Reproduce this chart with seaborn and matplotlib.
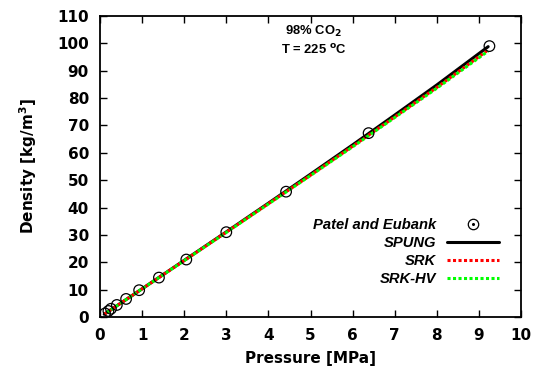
import matplotlib
matplotlib.use("Agg")
import matplotlib.pyplot as plt
import seaborn as sns
import pandas as pd
from matplotlib.lines import Line2D

# Experimental data (Patel and Eubank)
exp_pressure = [0.12, 0.20, 0.26, 0.40, 0.62, 0.93, 1.40, 2.05, 3.00, 4.42, 6.38, 9.25]
exp_density = [1.3, 2.2, 3.0, 4.4, 6.6, 9.8, 14.4, 21.0, 31.0, 45.8, 67.2, 99.0]

# Model curves
model_pressure = [0.1, 1.0, 2.0, 3.0, 4.0, 5.0, 6.0, 7.0, 8.0, 9.22]
spung = [1.0, 10.3, 20.7, 31.1, 41.6, 52.2, 62.9, 73.8, 84.8, 98.8]
srk = [1.0, 10.3, 20.6, 31.0, 41.4, 51.8, 62.4, 73.1, 83.9, 97.6]
srk_hv = [1.0, 10.3, 20.6, 30.9, 41.3, 51.7, 62.2, 72.9, 83.6, 97.2]

xticks = list(range(0, 11))
yticks = list(range(0, 111, 10))

sns.set_theme(style="ticks")
plt.rcParams['font.family'] = ['DejaVu Sans']
plt.rcParams['font.weight'] = 'bold'
plt.rcParams['text.color'] = 'black'
plt.rcParams['axes.labelcolor'] = 'black'
plt.rcParams['xtick.color'] = 'black'
plt.rcParams['ytick.color'] = 'black'
plt.rcParams['mathtext.fontset'] = 'custom'
plt.rcParams['mathtext.rm'] = 'DejaVu Sans:bold'
plt.rcParams['mathtext.bf'] = 'DejaVu Sans:bold'
plt.rcParams['mathtext.it'] = 'DejaVu Sans:bold:italic'
plt.rcParams['mathtext.default'] = 'rm'

fig = plt.figure(figsize=(5.36, 3.79), dpi=100)
ax = fig.add_axes([100/536, 1-317/379, 421/536, 301/379])

df_model = pd.DataFrame({"P": model_pressure, "SPUNG": spung, "SRK": srk, "SRK-HV": srk_hv})
df_exp = pd.DataFrame({"P": exp_pressure, "D": exp_density})

sns.lineplot(data=df_model, x="P", y="SPUNG", ax=ax, color="black", lw=2.2, zorder=2)
sns.lineplot(data=df_model, x="P", y="SRK", ax=ax, color="#ff0000", lw=2.2,
             linestyle=(0, (1.0, 0.8)), zorder=3)
sns.lineplot(data=df_model, x="P", y="SRK-HV", ax=ax, color="#00ff00", lw=2.2,
             linestyle=(0.9, (1.0, 0.8)), zorder=4)
sns.scatterplot(data=df_exp, x="P", y="D", ax=ax, marker="o", s=58,
                facecolor="none", edgecolor="black", linewidth=0.9, zorder=5)

ax.set_xlim(0, 10)
ax.set_ylim(0, 110)
ax.set_xticks(xticks)
ax.set_yticks(yticks)
ax.tick_params(direction="in", length=5, width=1, top=True, right=True,
               labelsize=11, pad=8, colors="black")
for lab in ax.get_xticklabels() + ax.get_yticklabels():
    lab.set_fontweight("bold")
    lab.set_color("black")
for sp in ax.spines.values():
    sp.set_linewidth(1.3)
    sp.set_color("black")

ax.set_xlabel("Pressure [MPa]", fontsize=11, fontweight="bold", labelpad=6, color="black")
ax.set_ylabel("Density [kg/m$^3$]", fontsize=11, fontweight="bold", labelpad=13, color="black")

ann_font = dict(family="Liberation Sans", weight="bold", size=9.4, color="black")
ax.text(5.08, 104.3, "98% CO$_2$", ha="center", va="center", fontdict=ann_font)
ax.text(5.08, 97.6, "T = 225 $^o$C", ha="center", va="center", fontdict=ann_font)

h_exp = (Line2D([], [], ls="none", marker="o", markersize=7.5, markerfacecolor="none",
                markeredgecolor="black", markeredgewidth=0.9),
         Line2D([], [], ls="none", marker="o", markersize=1.2, color="black"))
h_sp = Line2D([], [], color="black", lw=2.2)
h_srk = Line2D([], [], color="#ff0000", lw=2.2, ls=(0, (1.0, 0.8)))
h_hv = Line2D([], [], color="#00ff00", lw=2.2, ls=(0, (1.0, 0.8)))

leg = ax.legend([h_exp, h_sp, h_srk, h_hv], ["Patel and Eubank", "SPUNG", "SRK", "SRK-HV"],
                loc="upper right", bbox_to_anchor=((499-100)/421, (317-218)/301),
                markerfirst=False, frameon=False, borderpad=0, borderaxespad=0,
                handlelength=3.5, handletextpad=0.75, labelspacing=0.28, numpoints=1,
                prop=dict(family="Liberation Sans", weight="bold", style="italic", size=10.6))
for t in leg.get_texts():
    t.set_color("black")

fig.savefig("out.png", dpi=100)
